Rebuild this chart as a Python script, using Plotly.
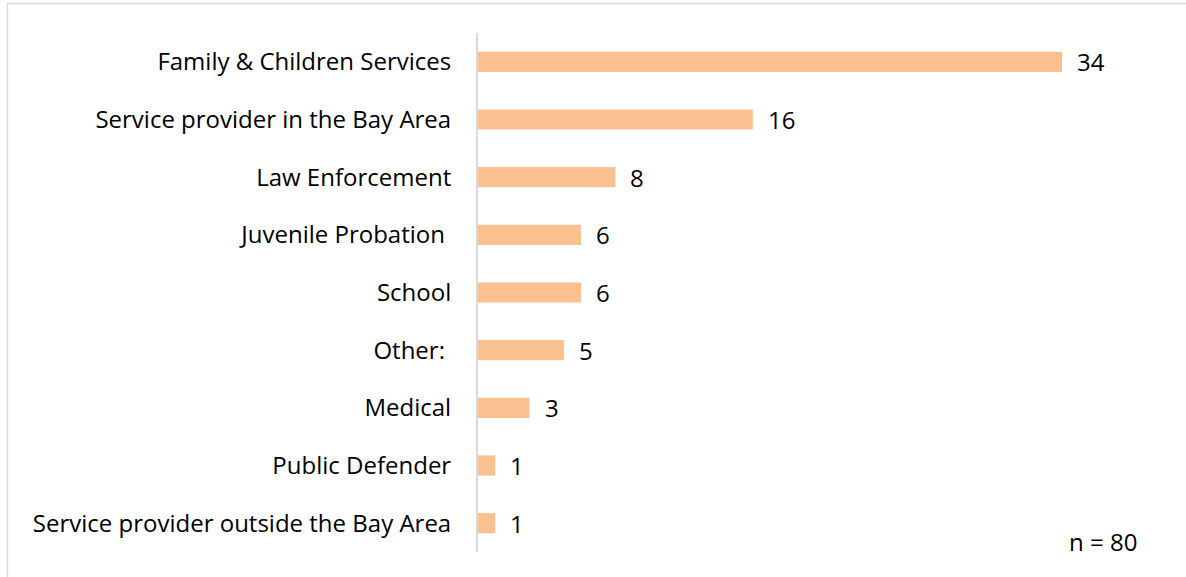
import plotly.graph_objects as go

categories = [
    "Family & Children Services",
    "Service provider in the Bay Area",
    "Law Enforcement",
    "Juvenile Probation\u00a0",
    "School",
    "Other:\u00a0",
    "Medical",
    "Public Defender",
    "Service provider outside the Bay Area",
]
counts = [34, 16, 8, 6, 6, 5, 3, 1, 1]
note = "n = 80"

bar_color = "#FAC090"
font_family = "Open Sans, Liberation Sans, sans-serif"
fsize = 24

W, H = 1186, 577
L, R, T, B = 478, 55, 33, 25
pw, ph = W - L - R, H - T - B

fig = go.Figure(
    go.Bar(
        x=counts,
        y=categories,
        orientation="h",
        marker=dict(color=bar_color, line=dict(width=0)),
        hoverinfo="skip",
    )
)

# value labels sit a little right of each bar
for cat, val in zip(categories, counts):
    fig.add_annotation(
        x=val, y=cat, text=str(val), showarrow=False,
        xanchor="left", xshift=13,
        font=dict(size=fsize, color="#000000", family=font_family),
    )

fig.add_annotation(
    xref="paper", yref="paper",
    x=(1139 - L) / pw, y=(H - B - 541) / ph,
    xanchor="right", yanchor="middle",
    text=note, showarrow=False,
    font=dict(size=fsize, color="#000000", family=font_family),
)

fig.update_layout(
    width=W,
    height=H,
    margin=dict(l=L, r=R, t=T, b=B),
    paper_bgcolor="white",
    plot_bgcolor="white",
    bargap=0.65,
    showlegend=False,
    font=dict(family=font_family, size=fsize, color="#000000"),
    shapes=[
        dict(type="rect", xref="paper", yref="paper",
             x0=(7.5 - L) / pw, x1=(1190 - L) / pw,
             y0=-(590 - (H - B)) / ph, y1=((H - B) - 3.5) / ph,
             line=dict(color="#D9D9D9", width=1.5), fillcolor="rgba(0,0,0,0)",
             layer="below"),
    ],
)

fig.update_xaxes(range=[0, pw / (584 / 34)], visible=False, showgrid=False, zeroline=False)
fig.update_yaxes(
    categoryorder="array",
    categoryarray=categories,
    autorange="reversed",
    showline=True,
    linecolor="#D9D9D9",
    linewidth=2,
    ticks="",
    ticklabelstandoff=20,
    showgrid=False,
    tickfont=dict(size=fsize, color="#000000", family=font_family),
)

fig.write_html(
    "out.html",
    config={"displayModeBar": False},
    post_script="document.body.style.margin='0';document.body.style.padding='0';",
)
